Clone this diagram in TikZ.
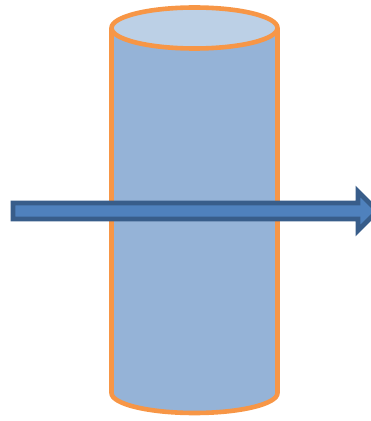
\documentclass[tikz,border=0pt]{standalone}
\definecolor{cylorange}{HTML}{F79646}
\definecolor{cylbody}{HTML}{95B3D7}
\definecolor{cyltop}{HTML}{BCD0E6}
\definecolor{arrfill}{HTML}{4F81BD}
\definecolor{arrline}{HTML}{385D8A}
\tikzset{
  cylstyle/.style={draw=cylorange, line width=4.6pt},
  arrowstyle/.style={draw=arrline, fill=arrfill, line width=4.8pt, line join=miter},
}
\begin{document}
\begin{tikzpicture}[x=1pt,y=1pt]
\useasboundingbox (0,0) rectangle (371,421);
\clip (0,0) rectangle (371,421);
% cylinder body
\filldraw[cylstyle, fill=cylbody] (111.5,393) -- (111.5,28) arc[start angle=180,end angle=360,x radius=83,y radius=20] -- (277.5,393);
% top ellipse
\filldraw[cylstyle, fill=cyltop] (194.5,393) ellipse[x radius=83,y radius=20.5];
% arrow
\filldraw[arrowstyle] (13,202) -- (358,202) -- (358,190.5) -- (377.5,210) -- (358,229.5) -- (358,218) -- (13,218) -- cycle;
\end{tikzpicture}
\end{document}
